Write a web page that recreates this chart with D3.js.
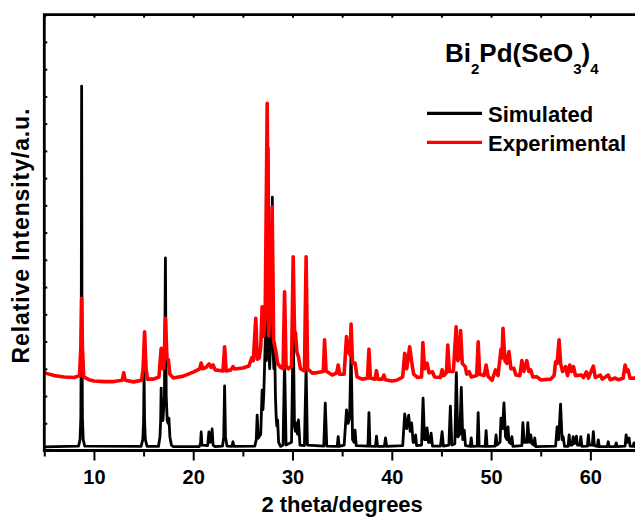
<!DOCTYPE html>
<html>
<head>
<meta charset="utf-8">
<script src="https://cdn.jsdelivr.net/npm/d3@7/dist/d3.min.js"></script>
<style>
  body { margin: 0; background: #fff; }
  svg { display: block; }
  text { font-family: "Liberation Sans", Arial, sans-serif; font-weight: bold; fill: #000; }
</style>
</head>
<body>
<svg id="chart" width="635" height="520"></svg>
<script>
// ---- data: [2theta, intensity] ----
var simTrace = [
  [5,13],[8.45,16],[8.6,40],[8.68,120],[8.72,400],[8.76,1338],[8.8,400],[8.84,120],[8.92,40],[9.07,16],
  [14.75,15],[14.92,40],[15.0,110],[15.05,288],[15.1,110],[15.18,40],[15.35,15],
  [16.5,15],[16.65,50],[16.72,110],[16.77,229],[16.85,110],[16.95,110],[17.1,200],[17.2,707],[17.28,200],[17.38,110],
  [17.47,100],[17.55,119],[17.65,50],[17.8,20],[18.0,14],
  [20.6,14],[20.74,25],[20.8,68],[20.88,20],[21.45,18],[21.58,68],[21.7,30],[21.82,35],[21.9,79],[22.0,20],[22.2,14],
  [22.95,16],[23.07,50],[23.16,237],[23.25,50],[23.4,16],[23.9,15],[24.0,32],[24.1,15],
  [26.2,16],[26.35,40],[26.44,130],[26.55,45],[26.8,60],[26.94,222],[27.02,150],[27.1,200],[27.18,300],[27.28,436],
  [27.36,330],[27.45,380],[27.55,1110],[27.63,360],[27.7,300],[27.78,390],[27.85,380],[27.97,930],[28.05,360],
  [28.12,300],[28.2,395],[28.28,200],[28.36,120],[28.42,90],[28.5,112],[28.6,30],[28.8,15],
  [29.05,20],[29.2,332],[29.35,20],[29.9,30],[30.07,461],[30.2,90],[30.3,70],[30.4,101],[30.5,60],[30.6,112],[30.75,20],
  [31.2,18],[31.37,308],[31.5,20],[33.15,16],[33.3,174],[33.45,16],[34.5,15],[34.6,51],[34.7,15],
  [35.2,20],[35.44,149],[35.6,100],[35.75,120],[35.9,369],[36.05,40],[36.2,30],[36.3,75],[36.42,18],
  [37.6,16],[37.7,139],[37.8,16],[38.35,15],[38.46,53],[38.56,15],[39.25,15],[39.37,46],[39.48,15],
  [41.1,18],[41.3,134],[41.5,80],[41.7,130],[41.85,70],[42.0,101],[42.15,30],[42.3,30],[42.4,57],[42.5,18],
  [43.0,20],[43.15,192],[43.3,40],[43.45,40],[43.55,83],[43.7,30],[43.85,30],[43.96,64],[44.1,16],
  [44.9,16],[45.07,69],[45.2,16],[45.75,20],[45.9,163],[46.05,20],[46.35,25],[46.5,286],[46.65,50],[46.85,60],
  [47.0,232],[47.15,40],[47.3,75],[47.42,18],[47.9,15],[48.0,46],[48.1,15],[48.6,16],[48.7,139],[48.8,16],
  [49.4,15],[49.5,73],[49.6,15],[50.4,16],[50.5,57],[50.6,20],[50.9,30],[51.0,119],[51.15,80],[51.3,175],
  [51.45,50],[51.6,40],[51.7,87],[51.82,30],[52.0,25],[52.1,51],[52.2,15],
  [53.1,18],[53.2,102],[53.35,30],[53.6,30],[53.7,102],[53.85,30],[54.0,57],[54.12,25],[54.3,20],[54.4,46],[54.5,14],
  [56.5,16],[56.65,87],[56.8,40],[57.0,170],[57.15,40],[57.26,51],[57.4,15],
  [57.76,15],[57.86,57],[57.96,20],[58.16,20],[58.26,51],[58.4,25],[58.6,53],[58.7,20],[58.95,20],[59.04,51],[59.15,15],
  [59.7,16],[59.8,57],[59.9,20],[60.2,20],[60.3,69],[60.4,18],[60.7,15],[60.8,39],[60.9,14],
  [61.7,14],[61.8,32],[61.9,14],[62.5,14],[62.6,28],[62.7,14],
  [63.5,16],[63.6,57],[63.72,30],[63.9,46],[64.0,16],[64.3,15],[64.4,28],[64.5,14],[65,13]
];

var expTrace = [
  [5,285],[6,275],[7,270],[8,268],[8.55,275],[8.68,380],[8.76,559],[8.84,380],[8.97,270],[9.5,260],[10,255],
  [11,253],[12,253],[12.85,258],[13.0,285],[13.15,258],[14,252],[14.8,258],[14.95,300],[15.1,436],[15.25,300],
  [15.4,262],[16,262],[16.55,270],[16.77,375],[16.95,300],[17.05,310],[17.2,485],[17.35,340],[17.5,332],[17.65,280],
  [18,266],[19,273],[20,288],[20.65,300],[20.8,321],[20.95,300],[21.3,305],[21.6,318],[21.8,305],[22.0,314],[22.2,296],
  [23.0,292],[23.16,381],[23.32,292],[23.8,296],[24.0,308],[24.2,299],[25,303],[25.6,310],[25.9,340],[26.05,330],
  [26.3,485],[26.45,335],[26.65,340],[26.8,380],[26.94,528],[27.1,420],[27.25,500],[27.45,1275],[27.6,420],
  [27.75,500],[27.95,895],[28.1,400],[28.3,369],[28.5,320],[28.8,305],[29.05,300],[29.2,583],[29.35,310],
  [29.6,300],[29.9,310],[30.07,711],[30.2,440],[30.3,431],[30.45,360],[30.6,344],[30.8,300],[31.2,292],
  [31.37,711],[31.52,300],[32,284],[32.5,286],[33.1,290],[33.23,406],[33.38,292],[34,277],[34.45,285],[34.6,314],
  [34.75,280],[35.2,280],[35.44,418],[35.58,360],[35.7,369],[35.8,350],[35.9,464],[36.05,320],[36.3,321],[36.5,270],
  [37,262],[37.55,265],[37.7,372],[37.85,265],[38.3,262],[38.46,293],[38.6,262],[39.05,262],[39.2,277],[39.35,260],
  [40,255],[40.5,258],[41.1,270],[41.3,357],[41.5,300],[41.8,381],[42.0,326],[42.2,280],[42.6,268],[43.0,270],
  [43.13,396],[43.3,300],[43.55,321],[43.75,285],[44.1,289],[44.3,270],[44.9,268],[45.07,296],[45.25,275],
  [45.5,285],[45.64,387],[45.8,290],[46.2,290],[46.48,454],[46.65,330],[46.8,340],[46.93,440],[47.1,320],
  [47.4,308],[47.55,280],[47.8,289],[48.0,270],[48.55,275],[48.7,399],[48.85,280],[49.3,275],[49.5,314],
  [49.7,272],[50.1,258],[50.45,296],[50.7,275],[51.0,372],[51.1,340],[51.2,449],[51.4,330],[51.6,320],
  [51.8,363],[52.0,300],[52.3,302],[52.5,277],[52.9,275],[53.1,330],[53.3,290],[53.6,330],[53.8,290],
  [54.0,296],[54.2,270],[54.6,271],[55,259],[56,262],[56.35,275],[56.5,326],[56.65,320],[56.85,406],
  [57.0,320],[57.2,290],[57.5,308],[57.7,275],[57.93,314],[58.1,290],[58.3,308],[58.5,275],[59.1,277],
  [59.3,268],[59.6,289],[59.8,266],[60.3,310],[60.5,268],[61.0,277],[61.2,262],[61.8,277],[62.0,260],
  [62.5,266],[62.8,260],[63.3,265],[63.5,314],[63.65,290],[63.8,296],[64.0,265],[64.5,266],[65,259]
];

var xTicks = [10, 20, 30, 40, 50, 60];
var xMinor = [5, 15, 25, 35, 45, 55, 65];
var yTicks = [0,100,200,300,400,500,600,700,800,900,1000,1100,1200,1300,1400,1500,1600];
var legendNames = ["Simulated", "Experimental"];
var legendColors = ["#000", "#ff0000"];

var svg = d3.select("#chart");
// plot box (right edge runs past the 635px window, as in the picture)
var pLeft = 44.3, pTop = 14.7, pBottom = 450.5, pRight = 640;

var x = d3.scaleLinear().domain([5, 65]).range([pLeft, pRight]);
var y = d3.scaleLinear().domain([0, 1600]).range([pBottom, pTop]);

// ---- data lines ----
var line = d3.line()
    .x(function(d) { return x(d[0]); })
    .y(function(d) { return y(d[1]); });

svg.append("path")
    .datum(simTrace)
    .attr("d", line)
    .attr("fill", "none")
    .attr("stroke", "#000")
    .attr("stroke-width", 2.8)
    .attr("stroke-linejoin", "round");

svg.append("path")
    .datum(expTrace)
    .attr("d", line)
    .attr("fill", "none")
    .attr("stroke", "#ff0000")
    .attr("stroke-width", 3.6)
    .attr("stroke-linejoin", "round");

// ---- axes ----
var xAxis = svg.append("g")
    .attr("transform", "translate(0," + pBottom + ")")
    .call(d3.axisBottom(x).tickValues(xTicks).tickSize(10).tickSizeOuter(0).tickPadding(9));
xAxis.attr("font-size", null).attr("font-family", null);
xAxis.selectAll("text").style("font-size", "20px");

svg.append("g")
    .attr("transform", "translate(0," + pBottom + ")")
    .call(d3.axisBottom(x).tickValues(xMinor).tickFormat("").tickSize(6).tickSizeOuter(0));

// top mirror ticks, inward
svg.append("g")
    .attr("transform", "translate(0," + pTop + ")")
    .call(d3.axisBottom(x).tickValues(xTicks.concat(xMinor)).tickFormat("").tickSize(3).tickSizeOuter(0));

// left ticks, inward
svg.append("g")
    .attr("transform", "translate(" + pLeft + ",0)")
    .call(d3.axisRight(y).tickValues(yTicks).tickFormat("").tickSize(3).tickSizeOuter(0));

svg.selectAll(".domain").remove();
svg.selectAll(".tick line").attr("stroke", "#000").attr("stroke-width", 2);

// frame
svg.append("path")
    .attr("d", "M" + pLeft + "," + pBottom + "V" + pTop + "H" + pRight)
    .attr("fill", "none").attr("stroke", "#000").attr("stroke-width", 2.8);
svg.append("line")
    .attr("x1", pLeft - 1.4).attr("x2", pRight).attr("y1", pBottom).attr("y2", pBottom)
    .attr("stroke", "#000").attr("stroke-width", 2.8);

// axis titles
svg.append("text")
    .attr("x", (pLeft + pRight) / 2).attr("y", 512)
    .attr("text-anchor", "middle")
    .style("font-size", "22px")
    .text("2 theta/degrees");

svg.append("text")
    .attr("transform", "translate(28.5," + ((pTop + pBottom) / 2 + 3) + ") rotate(-90)")
    .attr("text-anchor", "middle")
    .style("font-size", "23px")
    .style("letter-spacing", "0.9px")
    .text("Relative Intensity/a.u.");

// compound name
var title = svg.append("text").attr("x", 445).attr("y", 61.7).style("font-size", "26px");
title.append("tspan").text("Bi");
title.append("tspan").attr("dy", 12).style("font-size", "15px").text("2");
title.append("tspan").attr("dy", -12).text("Pd(SeO");
title.append("tspan").attr("dy", 12).style("font-size", "15px").text("3");
title.append("tspan").attr("dy", -12).text(")");
title.append("tspan").attr("dy", 12).style("font-size", "15px").text("4");

// legend
var legend = svg.append("g");
legendNames.forEach(function(name, i) {
    var ly = 113.3 + i * 29;
    legend.append("line")
        .attr("x1", 427).attr("x2", 482).attr("y1", ly).attr("y2", ly)
        .attr("stroke", legendColors[i]).attr("stroke-width", 3.2);
    legend.append("text")
        .attr("x", 488).attr("y", ly + 8.2)
        .style("font-size", "22px")
        .text(name);
});
</script>
</body>
</html>
